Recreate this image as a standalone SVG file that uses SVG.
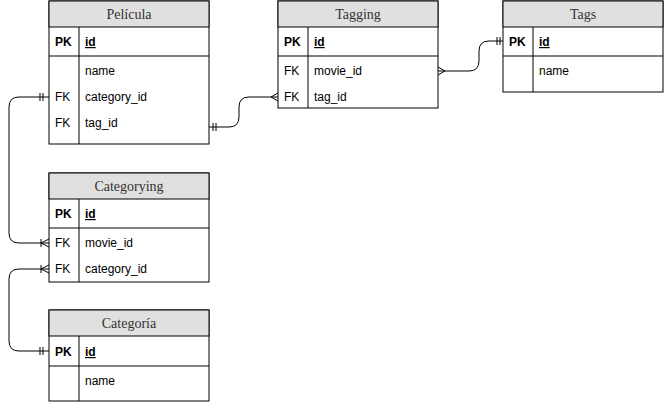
<svg xmlns="http://www.w3.org/2000/svg" width="664" height="403" viewBox="0 0 664 403">
<style>
.box{fill:#ffffff;stroke:#000;stroke-width:1}
.hdr{fill:#e0e0e0;stroke:#000;stroke-width:1}
.ln{stroke:#000;stroke-width:1;fill:none}
.title{font-family:"Liberation Serif",serif;font-size:14px;fill:#333;text-anchor:middle}
.t{font-family:"Liberation Sans",Arial,sans-serif;font-size:12px;fill:#000}
.b{font-weight:bold}
.u{text-decoration:underline}
.c{stroke:#000;stroke-width:1;fill:none}
</style>
<g id="connectors">
  <path class="c" d="M49,97 H19 Q9,97 9,107 V233 Q9,243 19,243 H49"/>
  <path class="c" d="M40,93 V101 M43,93 V101"/>
  <path class="c" d="M41,239 V247 M41,243 L49,239 M41,243 L49,247"/>
  <path class="c" d="M49,269 H19 Q9,269 9,279 V341 Q9,351 19,351 H49"/>
  <path class="c" d="M41,265 V273 M41,269 L49,265 M41,269 L49,273"/>
  <path class="c" d="M40,347 V355 M43,347 V355"/>
  <path class="c" d="M209,127 H229 Q239,127 239,117 V107 Q239,97 249,97 H278"/>
  <path class="c" d="M213,123 V131 M216,123 V131"/>
  <path class="c" d="M271,97 L278,93 M271,97 L278,101"/>
  <path class="c" d="M438,71 H469 Q479,71 479,61 V51 Q479,41 489,41 H503"/>
  <path class="c" d="M445,71 L438,67 M445,71 L438,75"/>
  <path class="c" d="M497,37 V45 M500,37 V45"/>
</g>
<g id="pelicula">
  <rect class="box" x="49" y="1" width="160" height="143"/>
  <rect class="hdr" x="49" y="1" width="160" height="26"/>
  <line class="ln" x1="49" y1="56" x2="209" y2="56"/>
  <line class="ln" x1="79" y1="27" x2="79" y2="144"/>
  <text class="title" x="129" y="19">Película</text>
  <text class="t b" x="55" y="46">PK</text>
  <text class="t b u" x="85" y="46">id</text>
  <text class="t" x="85" y="75">name</text>
  <text class="t" x="55" y="101">FK</text>
  <text class="t" x="85" y="101">category_id</text>
  <text class="t" x="55" y="127">FK</text>
  <text class="t" x="85" y="127">tag_id</text>
</g>
<g id="tagging">
  <rect class="box" x="278" y="1" width="160" height="107"/>
  <rect class="hdr" x="278" y="1" width="160" height="26"/>
  <line class="ln" x1="278" y1="56" x2="438" y2="56"/>
  <line class="ln" x1="308" y1="27" x2="308" y2="108"/>
  <text class="title" x="358" y="19">Tagging</text>
  <text class="t b" x="284" y="46">PK</text>
  <text class="t b u" x="314" y="46">id</text>
  <text class="t" x="284" y="75">FK</text>
  <text class="t" x="314" y="75">movie_id</text>
  <text class="t" x="284" y="101">FK</text>
  <text class="t" x="314" y="101">tag_id</text>
</g>
<g id="tags">
  <rect class="box" x="503" y="1" width="160" height="91"/>
  <rect class="hdr" x="503" y="1" width="160" height="26"/>
  <line class="ln" x1="503" y1="56" x2="663" y2="56"/>
  <line class="ln" x1="533" y1="27" x2="533" y2="92"/>
  <text class="title" x="583" y="19">Tags</text>
  <text class="t b" x="509" y="46">PK</text>
  <text class="t b u" x="539" y="46">id</text>
  <text class="t" x="539" y="75">name</text>
</g>
<g id="categorying">
  <rect class="box" x="49" y="173" width="160" height="109"/>
  <rect class="hdr" x="49" y="173" width="160" height="26"/>
  <line class="ln" x1="49" y1="228" x2="209" y2="228"/>
  <line class="ln" x1="79" y1="199" x2="79" y2="282"/>
  <text class="title" x="129" y="191">Categorying</text>
  <text class="t b" x="55" y="218">PK</text>
  <text class="t b u" x="85" y="218">id</text>
  <text class="t" x="55" y="247">FK</text>
  <text class="t" x="85" y="247">movie_id</text>
  <text class="t" x="55" y="273">FK</text>
  <text class="t" x="85" y="273">category_id</text>
</g>
<g id="categoria">
  <rect class="box" x="49" y="310" width="160" height="91"/>
  <rect class="hdr" x="49" y="310" width="160" height="26"/>
  <line class="ln" x1="49" y1="366" x2="209" y2="366"/>
  <line class="ln" x1="79" y1="336" x2="79" y2="401"/>
  <text class="title" x="129" y="328">Categoría</text>
  <text class="t b" x="55" y="356">PK</text>
  <text class="t b u" x="85" y="356">id</text>
  <text class="t" x="85" y="385">name</text>
</g>
</svg>
